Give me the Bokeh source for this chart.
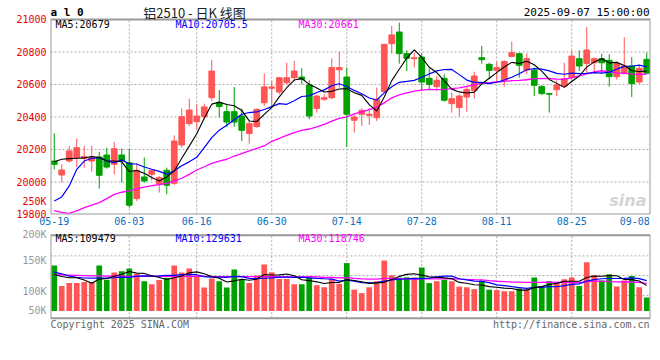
import numpy as np
import pandas as pd
from bokeh.plotting import figure
from bokeh.layouts import column
from bokeh.models import FixedTicker, Label, Range1d, ColumnDataSource
from bokeh.embed import file_html
from bokeh.resources import INLINE

# ---------------- data ----------------
dates = ["05-19", "05-20", "05-21", "05-22", "05-23", "05-26", "05-27", "05-28", "05-29", "05-30",
         "06-03", "06-04", "06-05", "06-06", "06-09", "06-10", "06-11", "06-12", "06-13", "06-16",
         "06-17", "06-18", "06-19", "06-20", "06-23", "06-24", "06-25", "06-26", "06-27", "06-30",
         "07-01", "07-02", "07-03", "07-04", "07-07", "07-08", "07-09", "07-10", "07-11", "07-14",
         "07-15", "07-16", "07-17", "07-18", "07-21", "07-22", "07-23", "07-24", "07-25", "07-28",
         "07-29", "07-30", "07-31", "08-01", "08-04", "08-05", "08-06", "08-07", "08-08", "08-11",
         "08-12", "08-13", "08-14", "08-15", "08-18", "08-19", "08-20", "08-21", "08-22", "08-25",
         "08-26", "08-27", "08-28", "08-29", "09-01", "09-02", "09-03", "09-04", "09-05", "09-08"]

open_ = [20129, 20043, 20129, 20150, 20146, 20129, 20154, 20166, 20109, 20166,
         20119, 19898, 20031, 20047, 19986, 20072, 19992, 20228, 20359, 20371,
         20402, 20519, 20488, 20433, 20433, 20406, 20298, 20341, 20488, 20577,
         20554, 20611, 20642, 20646, 20597, 20453, 20509, 20519, 20691, 20646,
         20380, 20417, 20410, 20396, 20556, 20851, 20923, 20790, 20759, 20769,
         20638, 20587, 20638, 20482, 20458, 20523, 20564, 20765, 20724, 20687,
         20626, 20773, 20790, 20689, 20687, 20587, 20544, 20568, 20591, 20642,
         20759, 20730, 20734, 20759, 20749, 20648, 20667, 20714, 20615, 20755]
high = [20300, 20109, 20222, 20267, 20222, 20222, 20185, 20211, 20248, 20207,
        20205, 20113, 20150, 20076, 20037, 20088, 20287, 20453, 20513, 20478,
        20482, 20751, 20566, 20482, 20585, 20453, 20375, 20453, 20667, 20622,
        20646, 20734, 20745, 20700, 20626, 20536, 20540, 20761, 20800, 20704,
        20417, 20453, 20453, 20581, 20851, 20960, 20981, 20810, 20796, 20792,
        20698, 20652, 20663, 20550, 20540, 20587, 20679, 20837, 20734, 20741,
        20749, 20864, 20796, 20790, 20704, 20597, 20544, 20626, 20734, 20810,
        20810, 20954, 20765, 20790, 20786, 20741, 20892, 20769, 20714, 20796]
low = [20078, 19998, 20119, 20092, 20088, 20064, 19959, 20082, 20047, 19996,
       19842, 19883, 19996, 20010, 19935, 19924, 19982, 20211, 20345, 20324,
       20386, 20499, 20396, 20339, 20339, 20252, 20236, 20334, 20468, 20458,
       20540, 20601, 20622, 20601, 20386, 20427, 20499, 20509, 20581, 20216,
       20304, 20345, 20351, 20375, 20550, 20790, 20728, 20683, 20704, 20560,
       20564, 20560, 20495, 20427, 20402, 20433, 20513, 20728, 20632, 20611,
       20587, 20769, 20642, 20663, 20529, 20536, 20427, 20529, 20581, 20622,
       20683, 20667, 20667, 20667, 20587, 20630, 20662, 20523, 20605, 20667]
close = [20109, 20074, 20191, 20211, 20156, 20154, 20041, 20092, 20205, 20129,
         19857, 20072, 20006, 20072, 20027, 19980, 20252, 20402, 20443, 20406,
         20462, 20683, 20464, 20369, 20369, 20318, 20359, 20447, 20585, 20585,
         20642, 20642, 20683, 20632, 20406, 20529, 20519, 20704, 20704, 20417,
         20400, 20441, 20417, 20509, 20847, 20905, 20790, 20761, 20765, 20615,
         20601, 20626, 20503, 20513, 20529, 20570, 20652, 20753, 20687, 20704,
         20741, 20796, 20718, 20759, 20595, 20544, 20540, 20597, 20636, 20775,
         20714, 20812, 20759, 20734, 20648, 20728, 20714, 20605, 20700, 20669]
volume = [196000, 107000, 120000, 120000, 125000, 125000, 196000, 134000, 166000, 171000,
          183000, 160000, 128000, 115000, 133000, 143000, 196000, 166000, 183000, 153000,
          101000, 140000, 128000, 101000, 178000, 134000, 120000, 153000, 200000, 166000,
          138000, 138000, 115000, 115000, 148000, 111000, 102000, 138000, 117000, 206000,
          92000, 77000, 102000, 128000, 217000, 154000, 143000, 145000, 143000, 187000,
          120000, 128000, 134000, 128000, 105000, 102000, 94000, 131000, 92000, 90000,
          85000, 85000, 97000, 92000, 144000, 107000, 128000, 123000, 137000, 144000,
          108000, 210000, 154000, 131000, 158000, 105000, 131000, 150000, 102000, 58000]

# moving-average values before enough bars are on screen
ma5_head = [20125, 20140, 20144, 20146]
ma10_head = [19883, 19908, 19976, 20078, 20129, 20146, 20150, 20129, 20119]
ma30_head = [19824, 19813, 19807, 19822, 19842, 19857, 19873, 19898, 19924, 19937,
             19945, 19957, 19969, 19978, 19984, 19992, 20006, 20023, 20047, 20074,
             20094, 20115, 20129, 20140, 20160, 20174, 20191, 20207, 20222]
vol_ma5_head = [157000, 148000, 143000, 143000]
vol_ma10_head = [167000, 160000, 150000, 145000, 142000, 141000, 141000, 141000, 143000]
vol_ma30_head = [155000, 155000, 154000, 153000, 152000, 151000, 151000, 150000, 150000, 150000,
                 149000, 149000, 149000, 149000, 149000, 149000, 149000, 149000, 149000, 149000,
                 149000, 148000, 148000, 148000, 148000, 148000, 148000, 148000, 148000]

tick_dates = ["05-19", "06-03", "06-16", "06-30", "07-14", "07-28", "08-11", "08-25", "09-08"]
price_ticks = [19800, 20000, 20200, 20400, 20600, 20800, 21000]
price_extra_tick_label = "250K"
vol_tick_labels = ["200K", "150K", "100K", "50K"]

title_code = "a l 0"
title_name = "铝2510 - 日K 线图"
timestamp = "2025-09-07 15:00:00"
ma_last = {"MA5": "20679", "MA10": "20705.5", "MA30": "20661"}
vol_ma_last = {"MA5": "109479", "MA10": "129631", "MA30": "118746"}

# ---------------- derived ----------------
n = len(close)
x = np.arange(n)
cs = pd.Series(close, dtype=float)
vs = pd.Series(volume, dtype=float)


def ma(series, w, head):
    m = series.rolling(w).mean().to_numpy()
    m[:len(head)] = head
    return m


RED = "#ff5555"
GREEN = "#00a000"
up = np.array(close) >= np.array(open_)
src = ColumnDataSource(dict(
    x=x, high=high, low=low,
    top=np.maximum(open_, close), bottom=np.minimum(open_, close),
    vol=volume, color=[RED if u else GREEN for u in up],
    ma5=ma(cs, 5, ma5_head), ma10=ma(cs, 10, ma10_head), ma30=ma(cs, 30, ma30_head),
    vma5=ma(vs, 5, vol_ma5_head), vma10=ma(vs, 10, vol_ma10_head), vma30=ma(vs, 30, vol_ma30_head)))

tick_idx = [dates.index(d) for d in tick_dates]
label_pos = [min(i, n - 2.6) for i in tick_idx]
grid_pos = tick_idx[1:-1]

MONO = "DejaVu Sans Mono"
GRID = "#aaaaaa"
FRAME = "#999999"

# panel boxes (value extents of the bordered chart areas)
price_box = (19800, 21000)
vol_box = (-31000, 326000)


def style_axis(ax, color, standoff):
    ax.axis_line_color = None
    ax.major_tick_line_color = None
    ax.minor_tick_line_color = None
    ax.major_tick_out = 0
    ax.major_tick_in = 0
    ax.major_label_text_font = MONO
    ax.major_label_text_font_size = "10px"
    ax.major_label_text_color = color
    ax.major_label_standoff = standoff


def lab(fig, txt, xs, ys, color="#000000", align="left", size="10px", font=MONO, style="normal"):
    fig.add_layout(Label(x=xs, y=ys, x_units="screen", y_units="screen", text=txt,
                         text_color=color, text_align=align, text_baseline="middle",
                         text_font=font, text_font_size=size, text_font_style=style))


def panel(fig, box, grid_y):
    k = len(grid_pos)
    fig.segment(x0=grid_pos, y0=[box[0]] * k, x1=grid_pos, y1=[box[1]] * k,
                line_color=GRID, line_dash="2 2", line_width=1)
    fig.segment(x0=[-0.5] * len(grid_y), y0=grid_y, x1=[n - 0.5] * len(grid_y), y1=grid_y,
                line_color=GRID, line_dash="2 2", line_width=1)
    fig.xgrid.visible = False
    fig.ygrid.visible = False


def border(fig, box):
    fig.quad(left=[-0.5], right=[n - 0.5], bottom=[box[0]], top=[box[1]],
             fill_color=None, line_color=FRAME, line_width=2)


# ---------------- price panel ----------------
p = figure(width=652, height=228, output_backend="svg", toolbar_location=None,
           x_range=Range1d(-0.5, n - 0.5), y_range=Range1d(19800, 21117),
           min_border_left=50, min_border_right=2, min_border_top=0, min_border_bottom=14)
p.background_fill_color = "white"
p.border_fill_color = "white"
p.outline_line_color = None

p.xaxis.ticker = FixedTicker(ticks=label_pos)
p.xaxis.major_label_overrides = {float(pos): lab_ for pos, lab_ in zip(label_pos, tick_dates)}
p.yaxis.ticker = FixedTicker(ticks=price_ticks + [19878])
p.yaxis.major_label_overrides = {19878.0: price_extra_tick_label}
style_axis(p.xaxis[0], "#0a6fc2", 2)
style_axis(p.yaxis[0], "#e60000", 4)

panel(p, price_box, price_ticks[1:-1])

p.segment(x0="x", y0="high", x1="x", y1="low", color="color", line_width=1, source=src)
p.vbar(x="x", width=0.76, top="top", bottom="bottom", fill_color="color",
       line_color="color", line_width=1, source=src)
p.line("x", "ma30", color="#ff00ff", line_width=1.3, source=src)
p.line("x", "ma10", color="#0000ff", line_width=1.2, source=src)
p.line("x", "ma5", color="#000000", line_width=1.1, source=src)
border(p, price_box)

lab(p, title_code, 0, 202, size="11px", style="bold")
lab(p, title_name, 144, 202, color="#222222", align="center", size="13px", font="Noto Sans CJK SC")
lab(p, timestamp, 599, 202, align="right", size="11px")
lab(p, "MA5:" + ma_last["MA5"], 5, 190, color="#000000")
lab(p, "MA10:" + ma_last["MA10"], 125, 190, color="#0000ff")
lab(p, "MA30:" + ma_last["MA30"], 248, 190, color="#ff00ff")
lab(p, "sina", 596, 14, color="#d4d4d4", align="right", size="16px", font="DejaVu Sans",
    style="bold italic")

# ---------------- volume panel ----------------
v = figure(width=652, height=102, output_backend="svg", toolbar_location=None,
           x_range=p.x_range, y_range=Range1d(-83850, 354750),
           min_border_left=50, min_border_right=2, min_border_top=0, min_border_bottom=0)
v.background_fill_color = "white"
v.border_fill_color = "white"
v.outline_line_color = None
v.xaxis.visible = False

vol_tick_pos = [341850, 215860, 85140, 2150]
v.yaxis.ticker = FixedTicker(ticks=vol_tick_pos)
v.yaxis.major_label_overrides = {float(t): s for t, s in zip(vol_tick_pos, vol_tick_labels)}
style_axis(v.yaxis[0], "#999999", 4)

panel(v, vol_box, [237000, 152500, 66500])

v.vbar(x="x", width=0.76, top="vol", bottom=0, fill_color="color", line_color=None, source=src)
v.line("x", "vma30", color="#ff00ff", line_width=1.3, source=src)
v.line("x", "vma10", color="#0000ff", line_width=1.2, source=src)
v.line("x", "vma5", color="#000000", line_width=1.1, source=src)
border(v, vol_box)

lab(v, "MA5:" + vol_ma_last["MA5"], 5, 92, color="#000000")
lab(v, "MA10:" + vol_ma_last["MA10"], 125, 92, color="#0000ff")
lab(v, "MA30:" + vol_ma_last["MA30"], 248, 92, color="#ff00ff")
lab(v, "Copyright 2025 SINA.COM", 0, 6.5, color="#666666")
lab(v, "http://finance.sina.com.cn", 599, 6.5, color="#666666", align="right")

layout = column(p, v, spacing=0)
open("out.html", "w").write(file_html(layout, INLINE))
